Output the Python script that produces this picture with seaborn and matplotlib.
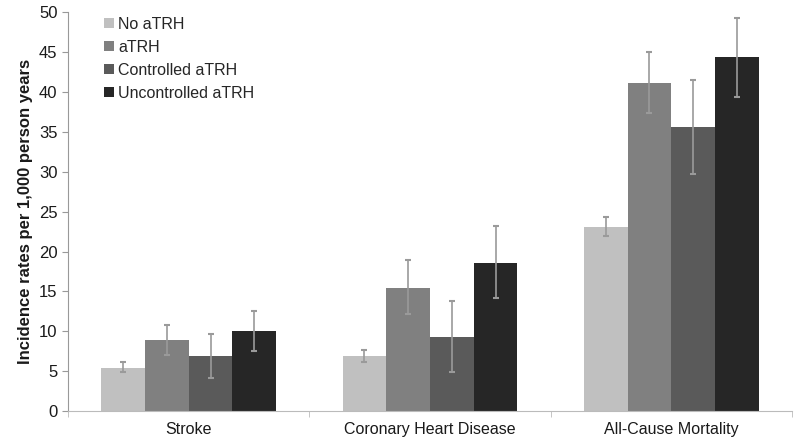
import matplotlib
matplotlib.use("Agg")
import matplotlib.pyplot as plt
import seaborn as sns
import pandas as pd
import numpy as np

categories = ["Stroke", "Coronary Heart Disease", "All-Cause Mortality"]
groups = ["No aTRH", "aTRH", "Controlled aTRH", "Uncontrolled aTRH"]
no_atrh = [5.4, 6.9, 23.1]
atrh = [8.9, 15.5, 41.2]
controlled = [6.9, 9.3, 35.6]
uncontrolled = [10.0, 18.6, 44.4]
lower = {"No aTRH": [4.9, 6.1, 22.0], "aTRH": [7.05, 12.2, 37.4],
         "Controlled aTRH": [4.1, 4.9, 29.7], "Uncontrolled aTRH": [7.6, 14.2, 39.4]}
upper = {"No aTRH": [6.1, 7.7, 24.3], "aTRH": [10.8, 18.9, 45.0],
         "Controlled aTRH": [9.7, 13.8, 41.5], "Uncontrolled aTRH": [12.5, 23.2, 49.3]}
colors = ["#c0c0c0", "#808080", "#5a5a5a", "#262626"]

vals = {"No aTRH": no_atrh, "aTRH": atrh, "Controlled aTRH": controlled, "Uncontrolled aTRH": uncontrolled}
rows = []
for g in groups:
    for c, v in zip(categories, vals[g]):
        rows.append({"cat": c, "group": g, "value": v})
df = pd.DataFrame(rows)

sns.set_style("white")
plt.rcParams["font.family"] = ["Liberation Sans", "DejaVu Sans"]

fig = plt.figure(figsize=(8, 4.43), dpi=100)
ax = fig.add_axes([0.085, 0.072, 0.905, 0.9])
sns.barplot(data=df, x="cat", y="value", hue="group", order=categories, hue_order=groups,
            palette=colors, width=0.725, gap=0, errorbar=None, saturation=1, ax=ax,
            linewidth=0)

# error bars at bar centres
for gi, g in enumerate(groups):
    cont = ax.containers[gi]
    xs = [p.get_x() + p.get_width() / 2 for p in cont.patches]
    v = np.array(vals[g])
    lo = v - np.array(lower[g])
    hi = np.array(upper[g]) - v
    ax.errorbar(xs, v, yerr=[lo, hi], fmt="none", ecolor="#9a9a9a", elinewidth=1.2,
                capsize=2.5, capthick=1.5)

ax.set_ylim(0, 50)
ax.set_xlim(-0.5, 2.5)
ax.set_yticks(range(0, 51, 5))
ax.set_ylabel("Incidence rates per 1,000 person years", fontsize=12, fontweight="bold", color="#1a1a1a")
ax.set_xlabel("")
ax.tick_params(axis="y", labelsize=12, length=4, direction="out", color="#999999", left=True, labelcolor="#1a1a1a")
ax.tick_params(axis="x", which="major", labelsize=11.5, length=0, pad=8, labelcolor="#1a1a1a")
ax.set_xticks([-0.5, 0.5, 1.5, 2.5], minor=True)
ax.tick_params(axis="x", which="minor", length=4, direction="out", color="#bbbbbb", bottom=True)
for s in ["top", "right"]:
    ax.spines[s].set_visible(False)
ax.spines["left"].set_color("#999999")
ax.spines["bottom"].set_color("#bbbbbb")

leg = ax.legend(loc="upper left", bbox_to_anchor=(0.03, 1.025), frameon=False, fontsize=11.5,
                handlelength=0.6, handleheight=0.6, handletextpad=0.3, labelspacing=0.5)
fig.savefig("out.png", dpi=100)
